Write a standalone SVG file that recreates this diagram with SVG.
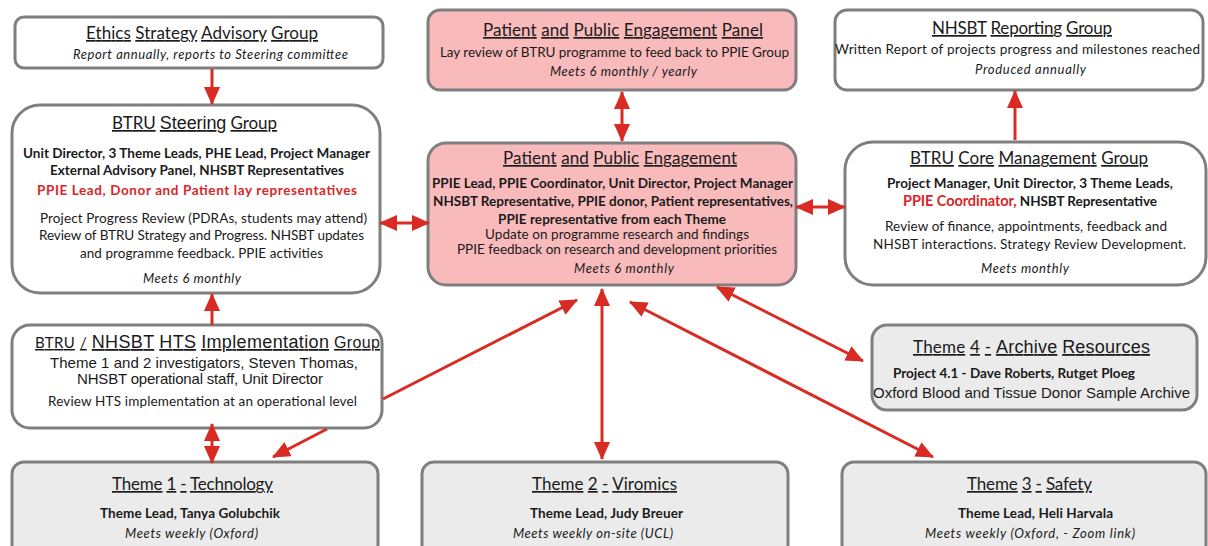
<svg xmlns="http://www.w3.org/2000/svg" width="1208" height="546" viewBox="0 0 1208 546">
<defs>
<marker id="ah" markerUnits="userSpaceOnUse" markerWidth="18" markerHeight="16" refX="17" refY="8" orient="auto-start-reverse" viewBox="0 0 18 16"><path d="M0,0 L18,8 L0,16 z" fill="#d92b23"/></marker>
<style>
.box{stroke:#7f7f7f;stroke-width:3;fill:#ffffff}
.pink{fill:#f9babc}
.grey{fill:#ebebeb}
text{font-family:Lato,"Open Sans","Liberation Sans",sans-serif;fill:#1a1a1a}
.t{font-size:17px}
.ar{font-family:"Liberation Sans",Arial,sans-serif}
.b{font-size:13.5px;font-weight:bold}
.r{font-size:13.5px}
.i{font-size:13px;font-style:italic}
.red{fill:#d8262a}
.u{text-decoration:underline}
.con{stroke:#d92b23;stroke-width:3;fill:none}
</style>
</defs>
<rect width="1208" height="546" fill="#ffffff"/>

<g id="ethics">
<rect class="box" x="15" y="17" width="368" height="51" rx="9"/>
<text class="t" x="86" y="39" textLength="232"><tspan class="u">Ethics</tspan> <tspan class="u">Strategy</tspan> <tspan class="u">Advisory</tspan> <tspan class="u">Group</tspan></text>
<text class="i" x="73" y="59" textLength="275">Report annually, reports to Steering committee</text>
</g>

<g id="steering">
<rect class="box" x="12" y="105" width="368" height="188" rx="28"/>
<text class="t" x="112" y="129" textLength="165"><tspan class="u">BTRU</tspan> <tspan class="u ar" font-size="18">Steering</tspan> <tspan class="u">Group</tspan></text>
<text class="b" x="23" y="158" textLength="347">Unit Director, 3 Theme Leads, PHE Lead, Project Manager</text>
<text class="b" x="50" y="175" textLength="294">External Advisory Panel, NHSBT Representatives</text>
<text class="b red" x="37" y="195" textLength="320" font-size="14.5">PPIE Lead, Donor and Patient lay representatives</text>
<text class="r" x="40" y="223" textLength="327">Project Progress Review (PDRAs, students may attend)</text>
<text class="r" x="39" y="240" textLength="325">Review of BTRU Strategy and Progress. NHSBT updates</text>
<text class="r" x="80" y="258" textLength="243">and programme feedback. PPIE activities</text>
<text class="i" x="143" y="283" textLength="98">Meets 6 monthly</text>
</g>

<g id="ppie-panel">
<rect class="box pink" x="428" y="10" width="368" height="80" rx="12"/>
<text class="t" x="483" y="36" textLength="280"><tspan class="u">Patient</tspan> <tspan class="u">and</tspan> <tspan class="u">Public</tspan> <tspan class="u">Engagement</tspan> <tspan class="u">Panel</tspan></text>
<text class="r" x="440" y="57" textLength="349">Lay review of BTRU programme to feed back to PPIE Group</text>
<text class="i" x="550" y="76" textLength="147">Meets 6 monthly / yearly</text>
</g>

<g id="ppie">
<rect class="box pink" x="428" y="143" width="368" height="142" rx="18"/>
<text class="t" x="503" y="164" textLength="234"><tspan class="u">Patient</tspan> <tspan class="u">and</tspan> <tspan class="u">Public</tspan> <tspan class="u">Engagement</tspan></text>
<text class="b" x="432" y="188" textLength="361">PPIE Lead, PPIE Coordinator, Unit Director, Project Manager</text>
<text class="b" x="433" y="206" textLength="360">NHSBT Representative, PPIE donor, Patient representatives,</text>
<text class="b" x="498" y="224" textLength="228">PPIE representative from each Theme</text>
<text class="r" x="485" y="239" textLength="264">Update on programme research and findings</text>
<text class="r" x="457" y="254" textLength="320">PPIE feedback on research and development priorities</text>
<text class="i" x="574" y="273" textLength="100">Meets 6 monthly</text>
</g>

<g id="nhsbt-reporting">
<rect class="box" x="835" y="10" width="368" height="80" rx="12"/>
<text class="t" x="932" y="34" textLength="180"><tspan class="u">NHSBT</tspan> <tspan class="u">Reporting</tspan> <tspan class="u">Group</tspan></text>
<text class="r" x="835" y="54" textLength="365">Written Report of projects progress and milestones reached</text>
<text class="i" x="975" y="74" textLength="111">Produced annually</text>
</g>

<g id="core-management">
<rect class="box" x="845" y="142" width="361" height="143" rx="28"/>
<text class="t" x="910" y="164" textLength="238"><tspan class="u">BTRU</tspan> <tspan class="u">Core</tspan> <tspan class="u">Management</tspan> <tspan class="u">Group</tspan></text>
<text class="b" x="887" y="188" textLength="286">Project Manager, Unit Director, 3 Theme Leads,</text>
<text class="b" x="903" y="206" textLength="254"><tspan class="red" font-size="14.5">PPIE Coordinator,</tspan> NHSBT Representative</text>
<text class="r" x="885" y="231" textLength="282">Review of finance, appointments, feedback and</text>
<text class="r" x="873" y="249" textLength="313">NHSBT interactions. Strategy Review Development.</text>
<text class="i" x="981" y="273" textLength="88">Meets monthly</text>
</g>

<g id="hts-implementation">
<rect class="box" x="12" y="325" width="370" height="103" rx="18"/>
<text class="t" x="35" y="348" textLength="345"><tspan class="u" font-size="15">BTRU</tspan> <tspan class="u" font-size="15">/</tspan> <tspan class="u ar" font-size="18">NHSBT</tspan> <tspan class="u ar" font-size="18">HTS</tspan> <tspan class="u ar" font-size="18">Implementation</tspan> <tspan class="u ar" font-size="16">Group</tspan></text>
<text class="ar" font-size="15" x="50" y="368" textLength="308">Theme 1 and 2 investigators, Steven Thomas,</text>
<text class="ar" font-size="15" x="77" y="384" textLength="246">NHSBT operational staff, Unit Director</text>
<text class="r" x="48" y="406" textLength="309">Review HTS implementation at an operational level</text>
</g>

<g id="theme4">
<rect class="box grey" x="872" y="325" width="325" height="85" rx="15"/>
<text class="t" x="913" y="353" textLength="237"><tspan class="u">Theme</tspan> <tspan class="u">4</tspan> <tspan class="u">-</tspan> <tspan class="u ar" font-size="18">Archive</tspan> <tspan class="u ar" font-size="18">Resources</tspan></text>
<text class="b" x="893" y="378" textLength="242">Project 4.1 - Dave Roberts, Rutget Ploeg</text>
<text class="ar" font-size="15" x="873" y="398" textLength="317">Oxford Blood and Tissue Donor Sample Archive</text>
</g>

<g id="theme1">
<rect class="box grey" x="12" y="462" width="366" height="95" rx="12"/>
<text class="t" x="112" y="490" textLength="161"><tspan class="u">Theme</tspan> <tspan class="u">1</tspan> <tspan class="u">-</tspan> <tspan class="u">Technology</tspan></text>
<text class="b" x="100" y="518" textLength="180">Theme Lead, Tanya Golubchik</text>
<text class="i" x="125" y="538" textLength="133">Meets weekly (Oxford)</text>
</g>

<g id="theme2">
<rect class="box grey" x="422" y="462" width="366" height="95" rx="12"/>
<text class="t" x="532" y="490" textLength="145"><tspan class="u">Theme</tspan> <tspan class="u">2</tspan> <tspan class="u">-</tspan> <tspan class="u">Viromics</tspan></text>
<text class="b" x="530" y="518" textLength="153">Theme Lead, Judy Breuer</text>
<text class="i" x="513" y="538" textLength="160">Meets weekly on-site (UCL)</text>
</g>

<g id="theme3">
<rect class="box grey" x="842" y="462" width="364" height="95" rx="12"/>
<text class="t" x="967" y="490" textLength="125"><tspan class="u">Theme</tspan> <tspan class="u">3</tspan> <tspan class="u">-</tspan> <tspan class="u">Safety</tspan></text>
<text class="b" x="958" y="518" textLength="155">Theme Lead, Heli Harvala</text>
<text class="i" x="925" y="538" textLength="210">Meets weekly (Oxford,  - Zoom link)</text>
</g>

<g id="connectors">
<path class="con" d="M212,69 L212,104" marker-end="url(#ah)"/>
<path class="con" d="M380,223 L429,223" marker-start="url(#ah)" marker-end="url(#ah)"/>
<path class="con" d="M622,92 L622,141" marker-start="url(#ah)" marker-end="url(#ah)"/>
<path class="con" d="M1015,140 L1015,91" marker-end="url(#ah)"/>
<path class="con" d="M796,207 L845,207" marker-start="url(#ah)" marker-end="url(#ah)"/>
<path class="con" d="M212,325 L212,294" marker-end="url(#ah)"/>
<path class="con" d="M212,424 L212,463" marker-start="url(#ah)" marker-end="url(#ah)"/>
<path class="con" d="M383,399 L577,300" marker-end="url(#ah)"/>
<path class="con" d="M327,429 L273,457" marker-end="url(#ah)"/>
<path class="con" d="M602,289 L602,459" marker-start="url(#ah)" marker-end="url(#ah)"/>
<path class="con" d="M630,302 L933,457" marker-start="url(#ah)" marker-end="url(#ah)"/>
<path class="con" d="M717,287 L863,361" marker-start="url(#ah)" marker-end="url(#ah)"/>
</g>
</svg>
